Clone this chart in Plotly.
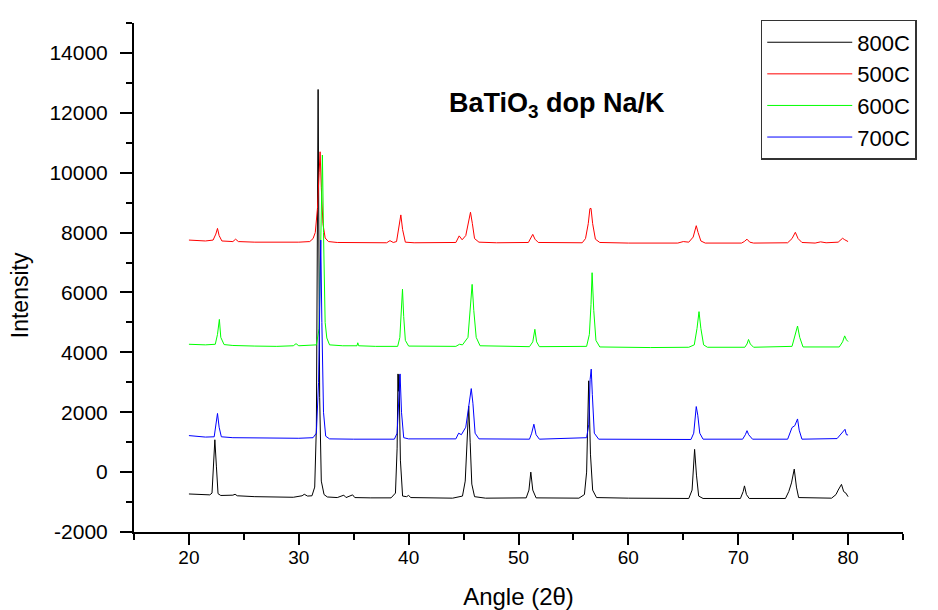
import plotly.graph_objects as go

# ---- data ----
x_800 = [20.0, 21.0, 21.9, 22.1, 22.25, 22.36, 22.5, 22.65, 22.9, 24.0, 24.2, 24.4, 26.0, 28.0, 29.5, 30.3, 30.5, 30.8,
         31.2, 31.45, 31.6, 31.76, 31.9, 32.05, 32.3, 32.6, 33.5, 34.1, 34.3, 34.9, 35.1, 36.5, 38.4, 38.8, 38.95, 39.03,
         39.07, 39.12, 39.25, 39.45, 39.8, 40.0, 40.2, 44.0, 44.9, 45.15, 45.35, 45.47, 45.6, 45.75, 46.0, 47.0, 50.7,
         50.95, 51.12, 51.3, 51.6, 55.5, 56.0, 56.2, 56.39, 56.55, 56.75, 57.1, 60.0, 65.5, 65.8, 65.95, 66.03, 66.2,
         66.4, 66.8, 70.2, 70.45, 70.57, 70.75, 71.0, 74.3, 74.6, 74.85, 75.1, 75.3, 75.5, 78.5, 78.9, 79.1, 79.4, 79.6,
         79.8, 80.0]
y_800 = [-730, -750, -760, -700, 300, 1080, 200, -720, -780, -770, -740, -790, -820, -840, -840, -790, -740, -800,
         -790, -500, 1500, 12780, 2500, -300, -750, -830, -850, -770, -850, -760, -850, -860, -860, -700, 800, 3280,
         2700, 3260, 400, -800, -820, -780, -850, -870, -800, -300, 1200, 2200, 1000, -400, -820, -870, -860,
         -600, 0, -600, -860, -870, -750, 0, 3050, 600, -600, -850, -870, -880, -600, 400, 760, -100,
         -800, -880, -880, -650, -460, -750, -880, -880, -650, -360, 100, -500, -850, -870, -750, -600, -410, -650,
         -700, -820]

x_500 = [20.0, 21.5, 22.2, 22.45, 22.6, 22.75, 23.0, 24.0, 24.25, 24.5, 26.0, 28.0, 30.0, 31.0, 31.3, 31.5, 31.7,
         31.85, 31.94, 32.05, 32.2, 32.4, 32.7, 33.5, 35.0, 38.0, 38.3, 38.6, 38.9, 39.1, 39.29, 39.45, 39.7, 40.5,
         44.3, 44.6, 44.87, 45.2, 45.45, 45.63, 45.8, 46.0, 46.4, 48.0, 50.9, 51.1, 51.3, 51.5, 51.8, 55.8, 56.1,
         56.35, 56.5, 56.6, 56.75, 57.0, 57.4, 60.0, 64.5, 65.0, 65.5, 65.9, 66.18, 66.35, 66.6, 67.0, 70.3, 70.55,
         70.8, 71.05, 71.4, 74.5, 74.9, 75.2, 75.45, 75.8, 77.0, 77.5, 78.0, 79.1, 79.5, 79.7, 80.0]
y_500 = [7750, 7720, 7750, 7950, 8140, 7900, 7720, 7700, 7780, 7700, 7680, 7670, 7680, 7700, 7800, 8000, 8800,
         10000, 10700, 9500, 8300, 7820, 7700, 7670, 7660, 7660, 7730, 7670, 7700, 8100, 8590, 8100, 7680, 7660,
         7670, 7890, 7760, 7900, 8400, 8680, 8300, 7800, 7680, 7660, 7670, 7800, 7940, 7780, 7670, 7660, 7800,
         8300, 8800, 8810, 8300, 7780, 7670, 7650, 7650, 7700, 7680, 7850, 8230, 8000, 7720, 7650, 7650, 7700,
         7780, 7680, 7650, 7660, 7800, 8010, 7800, 7670, 7650, 7690, 7660, 7680, 7810, 7760, 7700]

x_600 = [20.0, 21.5, 22.4, 22.6, 22.77, 22.9, 23.2, 24.0, 26.0, 28.0, 29.5, 29.75, 30.0, 31.0, 31.6, 31.85, 32.0,
         32.15, 32.25, 32.4, 32.55, 32.8, 34.0, 35.3, 35.37, 35.45, 37.0, 39.0, 39.2, 39.35, 39.44, 39.55, 39.7, 40.0,
         44.3, 44.63, 44.9, 45.4, 45.62, 45.78, 45.93, 46.15, 46.5, 51.0, 51.3, 51.49, 51.65, 51.9, 56.2, 56.45, 56.6,
         56.7, 56.85, 57.05, 57.4, 62.0, 65.5, 66.0, 66.25, 66.43, 66.6, 66.85, 67.2, 70.6, 70.8, 70.94, 71.1, 71.4,
         74.9, 75.15, 75.4, 75.6, 75.9, 79.2, 79.5, 79.69, 79.85, 80.0]
y_600 = [4270, 4250, 4270, 4600, 5100, 4500, 4260, 4230, 4210, 4200, 4220, 4290, 4220, 4230, 4250, 4800, 7500,
         10590, 8000, 5000, 4480, 4250, 4220, 4220, 4320, 4220, 4200, 4200, 4500, 5500, 6110, 5200, 4400, 4210,
         4200, 4270, 4250, 4500, 5500, 6270, 5400, 4500, 4220, 4190, 4350, 4770, 4350, 4190, 4200, 4600, 5600,
         6660, 5400, 4400, 4180, 4160, 4170, 4250, 4800, 5360, 4800, 4250, 4170, 4170, 4280, 4430, 4280, 4170,
         4200, 4500, 4880, 4500, 4180, 4180, 4350, 4550, 4420, 4360]

x_700 = [20.0, 21.5, 22.3, 22.45, 22.6, 22.75, 22.95, 24.0, 26.0, 28.0, 30.0, 31.3, 31.6, 31.8, 31.95, 32.0, 32.1,
         32.25, 32.45, 32.8, 35.0, 38.7, 38.95, 39.1, 39.22, 39.35, 39.55, 40.0, 44.3, 44.55, 44.8, 45.2, 45.5, 45.7,
         45.85, 46.05, 46.4, 51.0, 51.2, 51.4, 51.6, 51.9, 56.2, 56.4, 56.52, 56.62, 56.72, 56.9, 57.3, 62.0, 65.7,
         65.95, 66.18, 66.32, 66.5, 66.8, 70.4, 70.65, 70.8, 70.95, 71.3, 74.5, 74.7, 74.9, 75.15, 75.4, 75.55, 75.8,
         79.0, 79.3, 79.5, 79.72, 79.85, 80.0]
y_700 = [1220, 1170, 1180, 1500, 1960, 1500, 1180, 1150, 1140, 1130, 1130, 1150, 1300, 3000, 6500, 7750, 5000,
         2000, 1200, 1110, 1100, 1100, 1300, 2500, 3280, 2000, 1150, 1110, 1110, 1300, 1250, 1500, 2300, 2790,
         2300, 1300, 1110, 1100, 1300, 1600, 1250, 1100, 1150, 1600, 3100, 3440, 2600, 1300, 1100, 1090, 1090,
         1300, 2190, 1900, 1300, 1100, 1100, 1250, 1384, 1250, 1100, 1100, 1300, 1490, 1550, 1776, 1400, 1100,
         1120, 1250, 1300, 1430, 1250, 1240]

series_names = ["800C", "500C", "600C", "700C"]
series_x = [x_800, x_500, x_600, x_700]
series_y = [y_800, y_500, y_600, y_700]
series_colors = ["#000000", "#ff0000", "#00ff00", "#0000ff"]

x_tickvals = [20, 30, 40, 50, 60, 70, 80]
y_tickvals = [-2000, 0, 2000, 4000, 6000, 8000, 10000, 12000, 14000]

FONT = "Liberation Sans, Arial, sans-serif"

fig = go.Figure()
for name, xs, ys, col in zip(series_names, series_x, series_y, series_colors):
    fig.add_trace(go.Scatter(x=xs, y=ys, mode="lines", name=name,
                             line=dict(color=col, width=1)))

# the page adds an 8px body margin, so the figure is 8px smaller than the window
fig.update_layout(
    width=930, height=602,
    margin=dict(l=126, r=35, t=15, b=78),
    paper_bgcolor="white", plot_bgcolor="white",
    font=dict(family=FONT, color="black", size=20),
    showlegend=True,
    legend=dict(
        x=0.815, y=1.006, xanchor="left", yanchor="top",
        bgcolor="white", bordercolor="#333333", borderwidth=1.5,
        font=dict(family=FONT, size=22, color="black"),
        itemwidth=85, tracegroupgap=0,
    ),
    annotations=[
        dict(
            text="<b>BaTiO<sub>3</sub> dop Na/K</b>", xref="paper", yref="paper",
            x=0.5507, y=0.839, xanchor="center", yanchor="middle", showarrow=False,
            font=dict(family=FONT, size=27, color="black"),
        ),
        dict(
            text="Intensity", xref="paper", yref="paper", textangle=-90,
            x=-0.148, y=0.4656, xanchor="center", yanchor="middle", showarrow=False,
            font=dict(family=FONT, size=23, color="black"),
        ),
    ],
)

fig.update_xaxes(
    range=[15, 85], showgrid=False, zeroline=False,
    showline=True, linecolor="black", linewidth=2, mirror=False,
    tickmode="array", tickvals=x_tickvals, ticktext=[str(v) for v in x_tickvals],
    ticks="outside", ticklen=11, tickwidth=2, tickcolor="black",
    tickfont=dict(family=FONT, size=19), ticklabelstandoff=-4,
    minor=dict(dtick=5, tick0=15, ticks="outside", ticklen=6, tickwidth=2, tickcolor="black"),
    title=dict(text="Angle (2θ)", font=dict(family=FONT, size=24), standoff=21),
    automargin=False,
)
fig.update_yaxes(
    range=[-2000, 15000], showgrid=False, zeroline=False,
    showline=True, linecolor="black", linewidth=2, mirror=False,
    tickmode="array", tickvals=y_tickvals, ticktext=[str(v) for v in y_tickvals],
    ticks="outside", ticklen=12, tickwidth=2, tickcolor="black",
    tickfont=dict(family=FONT, size=21), ticklabelstandoff=8,
    minor=dict(dtick=1000, tick0=0, ticks="outside", ticklen=6, tickwidth=2, tickcolor="black"),
    automargin=False,
)

fig.write_html("out.html")
